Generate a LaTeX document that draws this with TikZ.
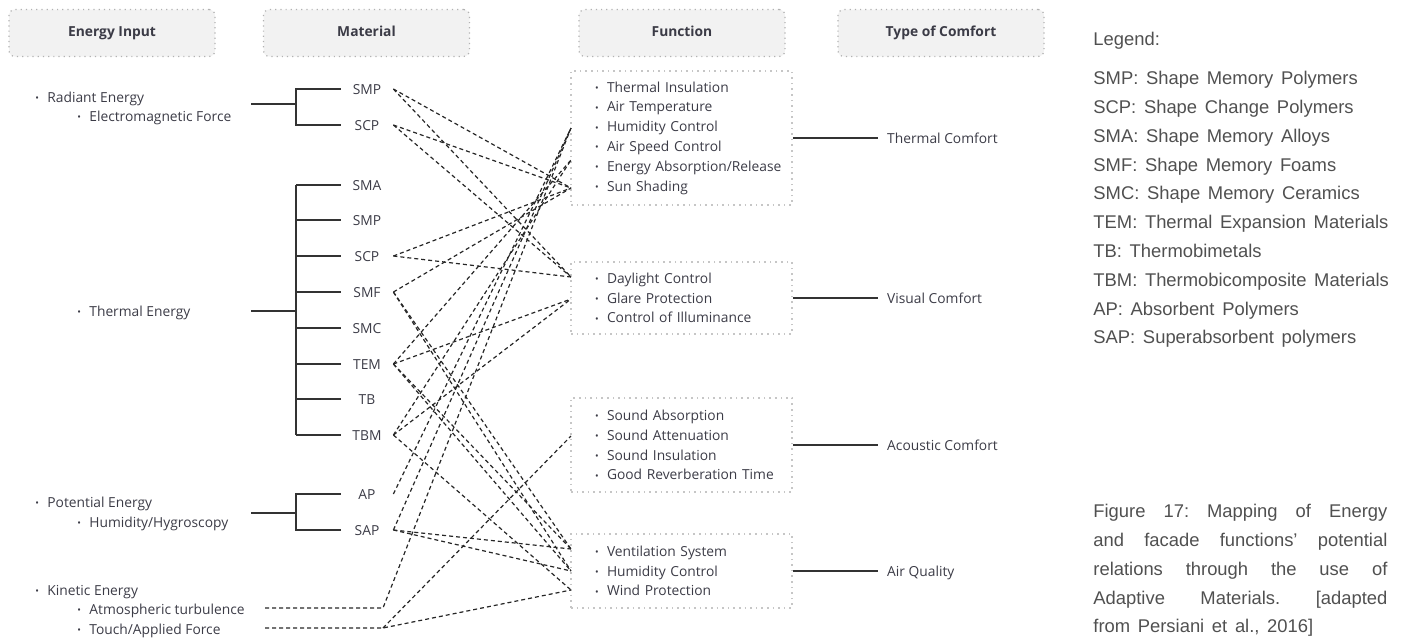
\documentclass[tikz,border=0pt]{standalone}
\usepackage{fontspec}
\setmainfont{Open Sans}
\newfontfamily\legendfont[WordSpace=1.5]{Liberation Sans}
\usetikzlibrary{positioning}

\definecolor{ink}{HTML}{3B3B46}
\definecolor{legendgray}{HTML}{505050}
\newcommand\basefont{\fontsize{6.9}{9.9}\selectfont}
\newcommand\bul{\makebox[6pt][l]{\raisebox{0.3pt}{\scalebox{0.7}{•}}}}
\newcommand\ibul{\hspace*{9pt}\bul}
\frenchspacing

\tikzset{
  head/.style={draw=gray!60, dotted, line width=0.6pt, fill=gray!10,
    rounded corners=3pt, minimum width=103pt, minimum height=23.5pt,
    text height=5pt, text depth=1.4pt, font=\basefont\bfseries, text=ink},
  entry/.style={inner sep=0pt, text height=5pt, text depth=0pt, text=ink},
  mat/.style={entry, minimum width=26pt},
  fbox/.style={draw=gray!45, dotted, line width=0.8pt, inner xsep=3pt,
    inner ysep=0pt, text width=104.5pt, align=left, text=ink},
  comfort/.style={entry, inner xsep=4.5pt},
  tree/.style={draw=black!80, line width=0.7pt},
  link/.style={draw=black!85, line width=0.6pt, dash pattern=on 2pt off 1.5pt},
  legend/.style={inner sep=0pt, text=legendgray,
    font=\legendfont\fontsize{9.2}{14.4}\selectfont}
}

\begin{document}
\begin{tikzpicture}[x=0.5pt, y=-0.5pt, font=\basefont]
\useasboundingbox (0,0) rectangle (1404,639);

  % column heads
  \node[head] (h-energy)   at (112,33)   {Energy Input};
  \node[head] (h-material) at (366.5,33) {Material};
  \node[head] (h-function) at (682,33)   {Function};
  \node[head] (h-comfort)  at (941,33)   {Type of Comfort};

  % energy input
  \node[entry, anchor=west] (radiant) at (35,97)  {\bul Radiant Energy};
  \node[entry, anchor=west] (emf)     at (77,116) {\bul Electromagnetic Force};
  \node[entry, anchor=west] (thermal-e) at (77,311) {\bul Thermal Energy};
  \node[entry, anchor=west] (potential) at (35,502) {\bul Potential Energy};
  \node[entry, anchor=west] (hygro)   at (77,522) {\bul Humidity/Hygroscopy};
  \node[entry, anchor=west] (kinetic) at (35,590) {\bul Kinetic Energy};
  \node[entry, anchor=west] (atm)     at (77,609) {\bul Atmospheric turbulence};
  \node[entry, anchor=west] (touch)   at (77,629) {\bul Touch/Applied Force};

  % materials
  \node[mat] (smp1) at (367,89)  {SMP};
  \node[mat] (scp1) at (367,125) {SCP};
  \node[mat] (sma)  at (367,185) {SMA};
  \node[mat] (smp2) at (367,220) {SMP};
  \node[mat] (scp2) at (367,256) {SCP};
  \node[mat] (smf)  at (367,292) {SMF};
  \node[mat] (smc)  at (367,328) {SMC};
  \node[mat] (tem)  at (367,364) {TEM};
  \node[mat] (tb)   at (367,399) {TB};
  \node[mat] (tbm)  at (367,435) {TBM};
  \node[mat] (ap)   at (367,494) {AP};
  \node[mat] (sap)  at (367,530) {SAP};

  % brackets
  \coordinate (rad-in)  at (251,104);
  \coordinate (rad-bus) at (296,104);
  \draw[tree] (rad-in) -- (rad-bus);
  \draw[tree] (smp1.west) -| (rad-bus) |- (scp1.west);

  \coordinate (thm-in)  at (251,311);
  \coordinate (thm-bus) at (296,311);
  \draw[tree, line width=1pt] (thm-in) -- (thm-bus);
  \draw[tree] (sma.west -| thm-bus) -- (tbm.west -| thm-bus);
  \foreach \m in {sma,smp2,scp2,smf,smc,tem,tb,tbm}
    \draw[tree] (\m.west -| thm-bus) -- (\m.west);

  \coordinate (pot-in)  at (251,513);
  \coordinate (pot-bus) at (296,513);
  \draw[tree] (pot-in) -- (pot-bus);
  \draw[tree] (ap.west) -| (pot-bus) |- (sap.west);

  % functions
  \node[fbox, minimum height=67pt] (f-thermal) at (681.5,138)
    {\ibul Thermal Insulation\\ \ibul Air Temperature\\ \ibul Humidity Control\\
     \ibul Air Speed Control\\ \ibul Energy Absorption/Release\\ \ibul Sun Shading};
  \node[fbox, minimum height=36pt] (f-visual) at (681.5,298)
    {\ibul Daylight Control\\ \ibul Glare Protection\\ \ibul Control of Illuminance};
  \node[fbox, minimum height=47pt] (f-acoustic) at (681.5,445)
    {\ibul Sound Absorption\\ \ibul Sound Attenuation\\ \ibul Sound Insulation\\
     \ibul Good Reverberation Time};
  \node[fbox, minimum height=37pt] (f-air) at (681.5,571)
    {\ibul Ventilation System\\ \ibul Humidity Control\\ \ibul Wind Protection};

  % type of comfort
  \node[comfort, right=42.5pt of f-thermal]  (c-thermal)  {Thermal Comfort};
  \node[comfort, right=42.5pt of f-visual]   (c-visual)   {Visual Comfort};
  \node[comfort, right=42.5pt of f-acoustic] (c-acoustic) {Acoustic Comfort};
  \node[comfort, right=42.5pt of f-air]      (c-air)      {Air Quality};
  \foreach \f/\c in {f-thermal/c-thermal, f-visual/c-visual,
                     f-acoustic/c-acoustic, f-air/c-air}
    \draw[tree] (\f.east) -- (\c.west);

  % ends of the relations on the function boxes
  \coordinate (th-a) at (571,128);
  \coordinate (th-b) at (571,160);
  \coordinate (th-c) at (571,188);
  \coordinate (vi-a) at (571,277);
  \coordinate (vi-b) at (571,299);
  \coordinate (ac-a) at (571,436);
  \coordinate (ai-a) at (571,549);
  \coordinate (ai-b) at (571,571);
  \coordinate (ai-c) at (571,590);

  % relations
  \foreach \m/\f in {smp1/th-c, smp1/vi-a, scp1/th-c, scp1/vi-a,
                     scp2/th-c, scp2/vi-a, smf/th-c, smf/ai-a, smf/ai-b,
                     tem/th-b, tem/vi-b, tem/ai-a, tem/ai-b,
                     tbm/th-b, tbm/vi-b, tbm/ai-c,
                     ap/th-a, sap/th-a, sap/ai-a, sap/ai-b}
    \draw[link] (\m.east) -- (\f);

  \coordinate (atm-a) at (265,608);
  \coordinate (atm-b) at (383,608);
  \coordinate (tch-a) at (265,628);
  \coordinate (tch-b) at (383,628);
  \draw[link] (atm-a) -- (atm-b) -- (th-a);
  \draw[link] (tch-a) -- (tch-b) -- (ai-c);
  \draw[link] (tch-b) -- (ac-a);

  % legend and caption
  \node[legend, anchor=west] (leg-title) at (1093,41) {Legend:};
  \node[legend, anchor=north west, align=left] (leg-list) at (1093,71)
    {SMP: Shape Memory Polymers\\ SCP: Shape Change Polymers\\
     SMA: Shape Memory Alloys\\ SMF: Shape Memory Foams\\
     SMC: Shape Memory Ceramics\\ TEM: Thermal Expansion Materials\\
     TB: Thermobimetals\\ TBM: Thermobicomposite Materials\\
     AP: Absorbent Polymers\\ SAP: Superabsorbent polymers};
  \node[legend, anchor=north west, text width=147pt, align=justify] (caption)
    at (1093,504)
    {Figure 17: Mapping of Energy\linebreak and facade functions’ potential\linebreak
     relations through the use of\linebreak Adaptive Materials. [adapted\linebreak
     from Persiani et al., 2016]};

\end{tikzpicture}
\end{document}
